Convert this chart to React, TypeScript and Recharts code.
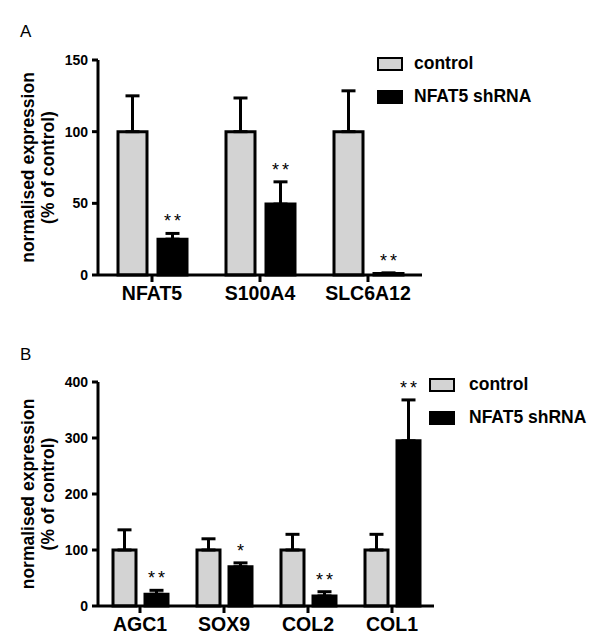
import { Bar, BarChart, ErrorBar, Legend, XAxis, YAxis } from "recharts";

const FONT = "'Liberation Sans', Arial, Helvetica, sans-serif";

// panel A
const genesA = ["NFAT5", "S100A4", "SLC6A12"];
const controlA = [100, 100, 100];
const controlErrA = [25, 23.5, 28.5];
const shrnaA = [25, 49.5, 1];
const shrnaErrA = [4, 15.5, 0.5];
const starsA = ["**", "**", "**"];
const ticksA = [0, 50, 100, 150];

// panel B
const genesB = ["AGC1", "SOX9", "COL2", "COL1"];
const controlB = [100, 100, 100, 100];
const controlErrB = [36, 20, 28, 28];
const shrnaB = [21, 70, 18, 295];
const shrnaErrB = [7, 7, 7.5, 73];
const starsB = ["**", "*", "**", "**"];
const ticksB = [0, 100, 200, 300, 400];

const buildRows = (
  genes: string[],
  control: number[],
  controlErr: number[],
  shrna: number[],
  shrnaErr: number[]
) =>
  genes.map((gene, i) => ({
    gene,
    control: control[i],
    controlErr: [0, controlErr[i]],
    shrna: shrna[i],
    shrnaErr: [0, shrnaErr[i]],
  }));

const rowsA = buildRows(genesA, controlA, controlErrA, shrnaA, shrnaErrA);
const rowsB = buildRows(genesB, controlB, controlErrB, shrnaB, shrnaErrB);

const makeStars =
  (stars: string[], values: number[], errs: number[]) => (props: any) => {
    const vb = props.viewBox ?? props;
    const { x, y, width, height } = vb;
    const i = props.index ?? 0;
    const perUnit = values[i] ? Math.abs(height) / values[i] : 0;
    const top = y - errs[i] * perUnit;
    return (
      <text
        key={`star-${i}`}
        x={x + width / 2 + 1.5}
        y={top - 6}
        textAnchor="middle"
        fontSize={18}
        fontFamily={FONT}
        fill="#000"
        letterSpacing={3}
      >
        {stars[i]}
      </text>
    );
  };

const GeneTick = (props: any) => {
  const { x, y, payload } = props;
  return (
    <text
      x={x}
      y={y}
      dy="0.71em"
      textAnchor="middle"
      fontSize={19.5}
      fontWeight="bold"
      fontFamily={FONT}
      fill="#000"
    >
      {payload.value}
    </text>
  );
};

const renderYLabel = (props: any) => {
  const vb = props.viewBox;
  const cy = vb.y + vb.height / 2;
  const lines = [
    { text: "normalised expression", x: 28 },
    { text: "(% of control)", x: 48 },
  ];
  return (
    <g>
      {lines.map((l) => (
        <text
          key={l.text}
          x={l.x}
          y={cy}
          transform={`rotate(-90, ${l.x}, ${cy})`}
          textAnchor="middle"
          dominantBaseline="central"
          fontSize={17.5}
          fontWeight="bold"
          fontFamily={FONT}
          fill="#000"
        >
          {l.text}
        </text>
      ))}
    </g>
  );
};

const makeLegend = (gap: number) => (props: any) => (
  <div style={{ fontFamily: FONT, fontWeight: "bold", fontSize: 17.5, color: "#000" }}>
    {(props.payload || []).map((entry: any) => (
      <div
        key={entry.value}
        style={{ display: "flex", alignItems: "center", height: 33, whiteSpace: "nowrap" }}
      >
        <span
          style={{
            display: "inline-block",
            boxSizing: "border-box",
            width: 26,
            height: 14,
            border: "2.5px solid #000",
            background: entry.color,
            marginRight: gap,
          }}
        />
        <span>{entry.value}</span>
      </div>
    ))}
  </div>
);

type PanelProps = {
  letter: string;
  letterTop: number;
  rows: any[];
  ticks: number[];
  height: number;
  margin: { top: number; right: number; bottom: number; left: number };
  barSize: number;
  barGap: number;
  capWidth: number;
  legendLeft: number;
  legendTop: number;
  legendGap: number;
  stars: (props: any) => any;
};

function Panel(p: PanelProps) {
  const axisStroke = { stroke: "#000", strokeWidth: 3 };
  return (
    <div style={{ position: "relative", width: 600, height: p.height }}>
      <div
        style={{
          position: "absolute",
          left: 20,
          top: p.letterTop,
          fontFamily: FONT,
          fontSize: 17,
          lineHeight: 1,
          zIndex: 2,
        }}
      >
        {p.letter}
      </div>
      <BarChart
        width={600}
        height={p.height}
        data={p.rows}
        margin={p.margin}
        barSize={p.barSize}
        barGap={p.barGap}
      >
        <XAxis
          dataKey="gene"
          interval={0}
          height={30}
          tickSize={7}
          tickMargin={4}
          axisLine={axisStroke}
          tickLine={axisStroke}
          tick={<GeneTick />}
        />
        <YAxis
          width={60}
          domain={[0, p.ticks[p.ticks.length - 1]]}
          ticks={p.ticks}
          interval={0}
          tickSize={6}
          tickMargin={4}
          axisLine={axisStroke}
          tickLine={axisStroke}
          tick={{ fill: "#000", fontSize: 14, fontWeight: "bold", fontFamily: FONT }}
          label={renderYLabel}
        />
        <Legend
          layout="vertical"
          align="center"
          verticalAlign="middle"
          itemSorter="dataKey"
          content={makeLegend(p.legendGap)}
          wrapperStyle={{ left: p.legendLeft, top: p.legendTop, width: "auto", height: "auto" }}
        />
        <Bar
          dataKey="control"
          name="control"
          fill="#d3d3d3"
          stroke="#000"
          strokeWidth={3}
          isAnimationActive={false}
        >
          <ErrorBar
            dataKey="controlErr"
            direction="y"
            width={p.capWidth}
            stroke="#000"
            strokeWidth={3}
            isAnimationActive={false}
          />
        </Bar>
        <Bar
          dataKey="shrna"
          name="NFAT5 shRNA"
          fill="#000"
          stroke="#000"
          strokeWidth={3}
          isAnimationActive={false}
          label={p.stars}
        >
          <ErrorBar
            dataKey="shrnaErr"
            direction="y"
            width={p.capWidth}
            stroke="#000"
            strokeWidth={3}
            isAnimationActive={false}
          />
        </Bar>
      </BarChart>
    </div>
  );
}

export default function App() {
  return (
    <div style={{ position: "absolute", left: 0, top: 0, width: 600, height: 644, background: "#fff" }}>
      <Panel
        letter="A"
        letterTop={23}
        rows={rowsA}
        ticks={ticksA}
        height={320}
        margin={{ top: 60, right: 178, bottom: 15, left: 38 }}
        barSize={29}
        barGap={11}
        capWidth={7}
        legendLeft={377}
        legendTop={47}
        legendGap={11}
        stars={makeStars(starsA, shrnaA, shrnaErrA)}
      />
      <Panel
        letter="B"
        letterTop={26}
        rows={rowsB}
        ticks={ticksB}
        height={324}
        margin={{ top: 62, right: 166, bottom: 8, left: 38 }}
        barSize={23}
        barGap={9}
        capWidth={7}
        legendLeft={429}
        legendTop={48}
        legendGap={14}
        stars={makeStars(starsB, shrnaB, shrnaErrB)}
      />
    </div>
  );
}
